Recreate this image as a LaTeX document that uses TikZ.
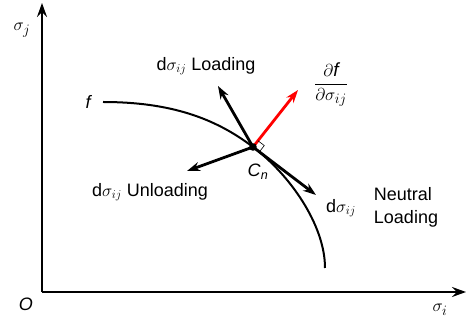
\documentclass[tikz,border=0pt]{standalone}
\usepackage{amsmath, amssymb}
\usepackage{fontspec}
\setmainfont{Liberation Sans}
\usetikzlibrary{arrows.meta, calc}

\begin{document}
\begin{tikzpicture}[x=1pt, y=-1pt,
    axis/.style={line width=2pt, -{Stealth[length=14pt, width=10pt, inset=5pt]}},
    arr/.style={line width=2.8pt, -{Stealth[length=13pt, width=9pt]}},
    lbl/.style={font=\fontsize{18}{23}\selectfont, inner sep=1pt, align=left},
    sym/.style={font=\fontsize{19}{22}\selectfont, inner sep=1pt}
]
    \useasboundingbox (0,0) rectangle (466,323);

    % axes
    \coordinate (o) at (42,292);
    \coordinate (yend) at (42,3);
    \coordinate (xend) at (466,292);
    \draw[axis] (o) -- (yend);
    \draw[axis] (o) -- (xend);
    \node[lbl] (oo) at (26,304) {\textit{O}};
    \node[sym] (sj) at (22,30) {$\sigma_j$};
    \node[sym] (si) at (440,310) {$\sigma_i$};

    % yield surface
    \coordinate (fs) at (103,102);
    \coordinate (cn) at (253,147);
    \coordinate (fe) at (325,268);
    \draw[line width=2pt] (fs) .. controls (170,102) and (215,118) .. (cn)
        .. controls (290,175) and (325,225) .. (fe);
    \node[lbl] (fl) at (89,102) {\textit{f}};

    % increments at C_n
    \coordinate (tl) at (218,86);
    \coordinate (tn) at (298,90);
    \coordinate (tu) at (187,171);
    \coordinate (tt) at (316,195);
    \draw[arr] (cn) -- (tl);
    \draw[arr] (cn) -- (tu);
    \draw[arr] (cn) -- (tt);
    \draw[arr, red] (cn) -- (tn);
    \draw[line width=0.6pt] ($(cn)!8pt!(tt)$) -- ($($(cn)!8pt!(tt)$)+($(cn)!8pt!(tn)$)-(cn)$) -- ($(cn)!8pt!(tn)$);
    \fill (cn) circle (3.8pt);

    \node[lbl] (cnl) at (258,172) {\textit{C}\textsubscript{\textit{n}}};
    \node[lbl] (load) at (206,66) {d$\sigma_{ij}$ Loading};
    \node[lbl] (unload) at (150,192) {d$\sigma_{ij}$ Unloading};
    \node[lbl] (tang) at (341,208) {d$\sigma_{ij}$};
    \node[lbl] (neut) at (406,207) {Neutral\\Loading};
    \node[sym] (grad) at (331,85) {$\dfrac{\partial\text{\itshape f}}{\partial\sigma_{ij}}$};
\end{tikzpicture}
\end{document}
